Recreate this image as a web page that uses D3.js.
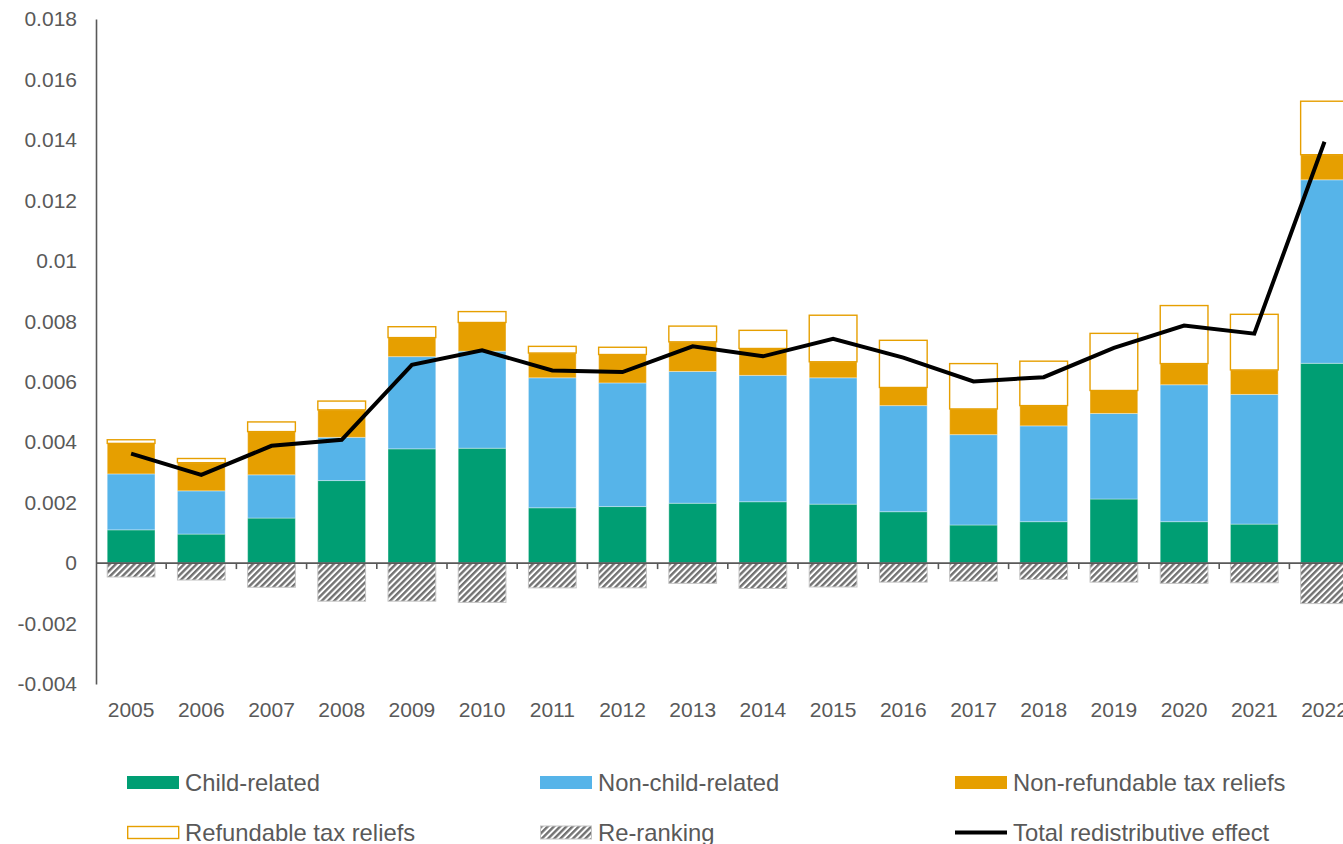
<!DOCTYPE html>
<html>
<head>
<meta charset="utf-8">
<script src="https://cdn.jsdelivr.net/npm/d3@7"></script>
<style>
  html, body { margin: 0; padding: 0; background: #fff; }
  svg { display: block; }
</style>
</head>
<body>
<script>
// Redistributive effect decomposition, 2005-2022
const years = ["2005","2006","2007","2008","2009","2010","2011","2012","2013",
               "2014","2015","2016","2017","2018","2019","2020","2021","2022"];
const childRelated    = [0.00110,0.00096,0.00149,0.00273,0.00378,0.00380,0.00183,0.00187,0.00198,
                         0.00203,0.00195,0.00170,0.00126,0.00137,0.00212,0.00137,0.00129,0.00661];
const nonChildRelated = [0.00185,0.00143,0.00143,0.00143,0.00305,0.00321,0.00430,0.00409,0.00436,
                         0.00418,0.00418,0.00351,0.00299,0.00317,0.00283,0.00453,0.00429,0.00607];
const nonRefundable   = [0.00101,0.00093,0.00143,0.00091,0.00063,0.00095,0.00082,0.00094,0.00098,
                         0.00089,0.00053,0.00060,0.00085,0.00067,0.00076,0.00070,0.00081,0.00083];
const refundable      = [0.00012,0.00014,0.00032,0.00029,0.00036,0.00036,0.00022,0.00024,0.00052,
                         0.00060,0.00154,0.00156,0.00150,0.00147,0.00189,0.00192,0.00184,0.00177];
const reRanking       = [-0.00046,-0.00056,-0.00080,-0.00126,-0.00126,-0.00130,-0.00082,-0.00082,-0.00067,
                         -0.00084,-0.00079,-0.00063,-0.00060,-0.00054,-0.00063,-0.00067,-0.00065,-0.00134];
const totalEffect     = [0.00362,0.00292,0.00388,0.00408,0.00656,0.00704,0.00637,0.00632,0.00717,
                         0.00684,0.00742,0.00680,0.00601,0.00615,0.00712,0.00786,0.00759,0.01394];
const yTicks      = [-0.004,-0.002,0,0.002,0.004,0.006,0.008,0.01,0.012,0.014,0.016,0.018];
const yTickLabels = ["-0.004","-0.002","0","0.002","0.004","0.006","0.008","0.01","0.012","0.014","0.016","0.018"];
const seriesNames = ["Child-related","Non-child-related","Non-refundable tax reliefs",
                     "Refundable tax reliefs","Re-ranking","Total redistributive effect"];

const W = 1343, H = 844;
const FONT = "'Liberation Sans', Arial, Helvetica, sans-serif";
const TXT = "#595959";
const C_GREEN = "#009E73", C_BLUE = "#56B4E9", C_ORANGE = "#E69F00";

const rows = years.map((yr, i) => ({
  year: yr,
  child: childRelated[i],
  nonchild: nonChildRelated[i],
  nonref: nonRefundable[i],
  refund: refundable[i]
}));
const keys = ["child","nonchild","nonref","refund"];
const stacked = d3.stack().keys(keys)(rows);

const svg = d3.select("body").append("svg").attr("width", W).attr("height", H);

// hatch pattern for re-ranking
const defs = svg.append("defs");
const pat = defs.append("pattern")
  .attr("id", "hatch").attr("patternUnits", "userSpaceOnUse")
  .attr("width", 4.4).attr("height", 4.4)
  .attr("patternTransform", "rotate(45)");
pat.append("rect").attr("width", 4.4).attr("height", 4.4).attr("fill", "#fff");
pat.append("line").attr("x1", 1.2).attr("y1", 0).attr("x2", 1.2).attr("y2", 4.4)
  .attr("stroke", "#727272").attr("stroke-width", 2.4);

const x = d3.scaleBand().domain(years)
  .range([96, 96 + 18 * 70.2]).paddingInner(0.32).paddingOuter(0.16);
const y = d3.scaleLinear().domain([-0.004, 0.018]).range([684, 19]);

const fills = { child: C_GREEN, nonchild: C_BLUE, nonref: C_ORANGE, refund: "#fff" };

// stacked positive bars
const layers = svg.append("g").selectAll("g").data(stacked).join("g");
layers.selectAll("rect").data(d => d.map(v => ({ key: d.key, v })))
  .join("rect")
  .attr("x", d => x(d.v.data.year))
  .attr("width", x.bandwidth())
  .attr("y", d => y(d.v[1]))
  .attr("height", d => y(d.v[0]) - y(d.v[1]))
  .attr("fill", d => fills[d.key])
  .attr("stroke", d => d.key === "refund" ? C_ORANGE : "rgba(255,255,255,0.35)")
  .attr("stroke-width", d => d.key === "refund" ? 1.4 : 1);

// re-ranking (negative) bars
svg.append("g").selectAll("rect").data(years)
  .join("rect")
  .attr("x", (d) => x(d))
  .attr("width", x.bandwidth())
  .attr("y", y(0))
  .attr("height", (d, i) => y(reRanking[i]) - y(0))
  .attr("fill", "url(#hatch)")
  .attr("stroke", "#c4c4c4").attr("stroke-width", 1);

// y axis
const gy = svg.append("g").attr("transform", "translate(96,0)")
  .call(d3.axisLeft(y).tickValues(yTicks).tickFormat((d, i) => yTickLabels[i])
        .tickSize(0).tickSizeOuter(0).tickPadding(19));
gy.select(".domain").attr("stroke", TXT).attr("stroke-width", 1.6);
gy.selectAll("text").attr("font-family", FONT).attr("font-size", 21).attr("fill", TXT);

// zero line with category boundary ticks
const y0 = y(0);
svg.append("line").attr("x1", 96).attr("x2", W + 10).attr("y1", y0).attr("y2", y0)
  .attr("stroke", TXT).attr("stroke-width", 1.6);
const gap = (x.step() - x.bandwidth()) / 2;
svg.append("g").selectAll("line").data(years.slice(1))
  .join("line")
  .attr("x1", d => x(d) - gap).attr("x2", d => x(d) - gap)
  .attr("y1", y0).attr("y2", y0 + 6)
  .attr("stroke", TXT).attr("stroke-width", 1.6);

// x labels along the bottom
const gx = svg.append("g").attr("transform", "translate(0,684)")
  .call(d3.axisBottom(x).tickSize(0).tickPadding(18));
gx.select(".domain").remove();
gx.selectAll("text").attr("font-family", FONT).attr("font-size", 21).attr("fill", TXT);

// total redistributive effect line
const line = d3.line()
  .x((d, i) => x(years[i]) + x.bandwidth() / 2)
  .y(d => y(d));
svg.append("path").datum(totalEffect)
  .attr("d", line).attr("fill", "none")
  .attr("stroke", "#000").attr("stroke-width", 4).attr("stroke-linejoin", "miter");

// legend
const legendItems = [
  { name: seriesNames[0], type: "fill", color: C_GREEN, col: 0, row: 0 },
  { name: seriesNames[1], type: "fill", color: C_BLUE, col: 1, row: 0 },
  { name: seriesNames[2], type: "fill", color: C_ORANGE, col: 2, row: 0 },
  { name: seriesNames[3], type: "outline", color: C_ORANGE, col: 0, row: 1 },
  { name: seriesNames[4], type: "hatch", color: "#777", col: 1, row: 1 },
  { name: seriesNames[5], type: "line", color: "#000", col: 2, row: 1 }
];
const colX = [127, 540, 955], rowY = [782.5, 832.5];
const lg = svg.append("g").selectAll("g").data(legendItems).join("g")
  .attr("transform", d => `translate(${colX[d.col]},${rowY[d.row]})`);
lg.filter(d => d.type === "fill").append("rect")
  .attr("x", 0).attr("y", -6.5).attr("width", 52).attr("height", 13).attr("fill", d => d.color);
lg.filter(d => d.type === "outline").append("rect")
  .attr("x", 0.7).attr("y", -6).attr("width", 51).attr("height", 12)
  .attr("fill", "#fff").attr("stroke", d => d.color).attr("stroke-width", 1.4);
lg.filter(d => d.type === "hatch").append("rect")
  .attr("x", 0.5).attr("y", -6.5).attr("width", 51).attr("height", 13)
  .attr("fill", "url(#hatch)").attr("stroke", "#c4c4c4").attr("stroke-width", 1);
lg.filter(d => d.type === "line").append("line")
  .attr("x1", 0).attr("x2", 52).attr("y1", 0).attr("y2", 0)
  .attr("stroke", d => d.color).attr("stroke-width", 4);
lg.append("text").attr("x", 58).attr("y", 8.5)
  .attr("font-family", FONT).attr("font-size", 23.8).attr("fill", TXT)
  .text(d => d.name);
</script>
</body>
</html>
